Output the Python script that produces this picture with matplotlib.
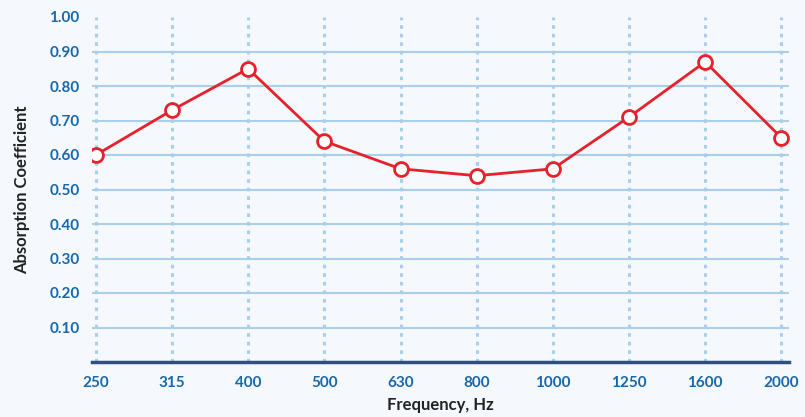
import matplotlib
matplotlib.use("Agg")
import matplotlib.pyplot as plt

categories = ["250", "315", "400", "500", "630", "800", "1000", "1250", "1600", "2000"]
values = [0.60, 0.73, 0.85, 0.64, 0.56, 0.54, 0.56, 0.71, 0.87, 0.65]
yticks = [0.10, 0.20, 0.30, 0.40, 0.50, 0.60, 0.70, 0.80, 0.90, 1.00]

bg = "#f5f9fd"
grid_c = "#a9cfeb"
tick_c = "#1667ad"
red = "#e8202a"

fig = plt.figure(figsize=(8.05, 4.17), dpi=100, facecolor=bg)
ax = fig.add_axes([92/805, (417-362)/417, (789-92)/805, (362-17)/417], facecolor=bg)

x = list(range(len(categories)))
ax.set_xlim(-0.05, 9.1)
ax.set_ylim(0, 1.0)

for yv in yticks[:-1]:
    ax.axhline(yv, color=grid_c, lw=1.5, zorder=1)
for xi in x:
    ax.axvline(xi, color=grid_c, lw=2.2, ls=(0, (1.2, 1.6)), zorder=1)

ax.plot(x, values, color=red, lw=2.0, marker="o", markersize=10,
        markerfacecolor="white", markeredgecolor=red, markeredgewidth=2.0, zorder=3)

for s in ["top", "right", "left"]:
    ax.spines[s].set_visible(False)
ax.spines["bottom"].set_color("#2f4f80")
ax.spines["bottom"].set_linewidth(2.5)
ax.spines["bottom"].set_zorder(4)

ax.set_xticks(x)
ax.set_xticklabels(categories)
ax.set_yticks(yticks)
ax.set_yticklabels([f"{v:.2f}" for v in yticks])
ax.tick_params(axis="both", length=0, colors=tick_c, labelsize=11)
ax.tick_params(axis="x", pad=10)
ax.tick_params(axis="y", pad=9)
for lbl in ax.get_xticklabels() + ax.get_yticklabels():
    lbl.set_fontfamily("Lato")
    lbl.set_fontweight("bold")

ax.set_xlabel("Frequency, Hz", fontfamily="Lato", fontweight="bold", fontsize=12,
              color="#222222", labelpad=5)
ax.set_ylabel("Absorption Coefficient", fontfamily="Lato", fontweight="bold", fontsize=12,
              color="#222222", labelpad=14)

fig.savefig("out.png", dpi=100, facecolor=bg)
